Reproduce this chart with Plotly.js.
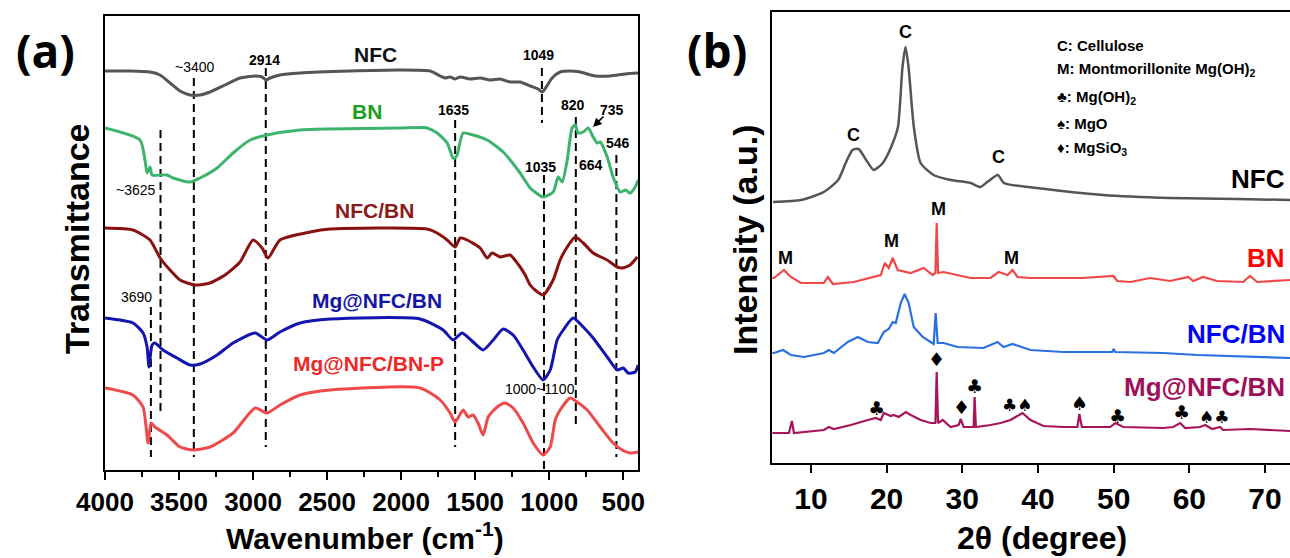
<!DOCTYPE html>
<html><head><meta charset="utf-8">
<script src="https://cdn.plot.ly/plotly-3.0.1.min.js"></script>
<style>html,body{margin:0;padding:0;background:#fff}#chart{width:1290px;height:558px}</style>
</head><body><div id="chart"></div>
<script>
// ---------- (a) FTIR : wavenumber (cm-1) and transmittance (offset, a.u.) ----------
const ftirNFC_wn = [4000,3831,3696,3628,3561,3493,3426,3358,3291,3189,3088,2986,2939,2912,2885,2818,2682,2345,2007,1804,1736,1703,1669,1635,1601,1534,1466,1399,1331,1264,1196,1128,1074,1047,1020,980,926,858,791,689,588,486,399];
const ftirNFC_t  = [399,399,398,395,387,379,375,375,378,385,392,394,393,390,392,395,397,399,400,399,394,392,393,391,393,391,392,390,391,388,388,384,381,378,383,392,398,399,398,394,394,396,397];

const ftirBN_wn = [4000,3764,3730,3716,3696,3682,3628,3581,3541,3426,3358,3243,3135,3020,2905,2682,2480,2007,1824,1757,1689,1649,1635,1622,1581,1514,1419,1311,1196,1128,1041,973,939,912,878,845,824,804,770,736,703,676,655,608,568,520,486,453,419,399];
const ftirBN_t  = [342,330,310,297,303,295,295,295,292,288,292,302,317,330,335,340,341,342,342,337,327,312,312,315,337,335,330,318,297,282,273,278,293,288,310,342,345,337,338,342,333,327,328,313,293,278,280,277,283,290];

const ftirNFCBN_wn = [4000,3811,3696,3628,3561,3493,3392,3291,3189,3088,3000,2939,2899,2818,2615,2480,1824,1757,1689,1635,1601,1554,1466,1419,1385,1331,1264,1196,1162,1128,1095,1041,973,926,878,824,770,703,608,540,507,453,405];
const ftirNFCBN_t  = [242,240,230,212,200,190,185,187,195,208,230,222,212,230,238,241,241,237,230,223,232,230,222,212,217,213,215,203,195,185,180,175,190,210,223,233,227,217,210,203,202,205,213];

const ftirMg_wn = [4000,3811,3743,3716,3703,3682,3662,3608,3514,3426,3358,3243,3135,2986,2905,2818,2682,2480,1872,1716,1649,1588,1514,1446,1378,1311,1243,1176,1108,1041,993,946,905,838,770,703,608,540,500,466,419,399];
const ftirMg_t  = [152,147,137,123,103,125,127,120,112,105,106,115,127,137,130,138,147,151,151,140,130,137,128,120,130,141,135,120,103,90,100,130,140,152,143,132,113,100,102,97,98,105];

const ftirMgP_wn = [4000,3811,3743,3709,3689,3662,3581,3493,3405,3291,3135,2986,2905,2818,2682,2480,1872,1736,1669,1635,1581,1547,1514,1480,1446,1412,1351,1297,1243,1176,1108,1041,993,959,926,858,811,743,655,568,507,453,399];
const ftirMgP_t  = [82,75,63,27,47,43,35,23,20,23,37,62,57,65,75,80,82,70,57,48,60,53,55,47,35,53,63,67,62,47,27,15,23,50,60,72,68,60,43,27,20,17,18];

// dashed peak guide lines (wavenumber, top and bottom in transmittance units)
const peakLineWn     = [3690,3625,3400,2914,1635,1049,1035,820,546];
const peakLineTop    = [163,340,392,402,350,402,295,353,315];
const peakLineBottom = [13,57,13,23,23,347,0,43,13];

const ftirTicks = [4000,3500,3000,2500,2000,1500,1000,500];
const ftirMinorTicks = [3750,3250,2750,2250,1750,1250,750];

// ---------- (b) XRD : 2theta (degree) and intensity (offset, a.u.) ----------
const xrdNFC_th = [5.0,8.7,11.7,13.6,14.6,15.5,16.3,17.3,18.3,19.5,20.6,21.5,22.1,22.5,22.9,23.6,24.5,26.2,28.5,31.1,32.4,33.3,34.7,35.5,39.9,48.6,57.5,66.3,73.3];
const xrdNFC_I  = [261,263,271,283,300,313,314,303,293,300,316,336,396,416,396,336,300,288,283,280,276,281,288,280,275,268,265,264,263];

const xrdBN_th = [4.9,5.12,6.44,7.36,8.68,11.71,12.24,12.9,15.67,17.91,19.23,19.76,20.29,20.81,21.47,23.19,24.9,26.09,26.45,26.62,26.8,27.54,29.39,31.1,33.74,34.79,35.98,36.64,37.3,39.01,45.87,49.96,50.48,52.2,54.84,57.47,59.85,60.51,61.83,63.67,67.1,68.02,68.95,73.3];
const xrdBN_I  = [185,185,193,186,180,180,186,179,181,185,188,200,195,205,193,190,195,188,190,240,190,191,188,185,185,191,188,193,186,185,185,187,182,181,185,182,186,182,186,182,181,187,181,183];

const xrdNFCBN_th = [4.9,5.12,6.31,7.36,9.08,11.71,12.37,13.03,14.88,16.2,17.52,18.84,19.63,20.29,20.81,21.21,21.87,22.39,22.92,23.58,24.77,25.82,26.22,26.48,26.75,27.54,29.39,32.81,34.66,35.45,36.64,39.01,43.36,49.8,50.0,50.2,56.55,61.04,67.63,73.3];
const xrdNFCBN_I  = [110,110,113,108,106,110,113,110,121,126,121,120,131,134,141,140,160,169,160,136,126,121,119,150,120,120,116,115,121,116,119,113,111,111,114,111,110,108,106,105];

const xrdMg_th = [4.9,5.12,7.1,7.49,7.76,11.71,12.37,13.03,15.27,17.52,18.57,19.23,19.63,20.55,20.95,21.6,22.53,23.19,24.51,25.82,26.45,26.62,26.8,27.41,28.46,29.52,29.78,30.18,31.1,31.5,31.63,31.8,33.74,35.06,36.37,37.96,39.01,40.73,43.36,45.21,45.47,45.8,49.56,50.22,51.28,56.55,57.87,58.79,59.45,61.43,62.09,63.01,64.07,64.46,68.02,73.3];
const xrdMg_I  = [30,30,30,42,30,33,36,34,38,43,45,43,50,47,48,46,51,48,43,40,40,91,40,43,36,38,44,36,36,36,66,36,38,40,43,50,43,37,36,36,49,36,36,40,36,35,36,40,35,36,38,34,36,33,34,32];

const xrdTicks = [10,20,30,40,50,60,70];

// ---------- traces ----------
const W = 1290, H = 558;
const traces = [];
peakLineWn.forEach((wn, i) => {
  traces.push({x:[wn,wn], y:[peakLineTop[i], peakLineBottom[i]], xaxis:'x', yaxis:'y',
    mode:'lines', line:{color:'#000', width:2, dash:'8px,5px'}, hoverinfo:'skip', showlegend:false});
});
function ln(x, y, color, width, ax, smooth) {
  const line = smooth ? {color, width, shape:'spline', smoothing:smooth} : {color, width, shape:'linear'};
  return {x, y, mode:'lines', line, xaxis:ax==2?'x2':'x', yaxis:ax==2?'y2':'y', showlegend:false, hoverinfo:'skip'};
}
traces.push(ln(ftirNFC_wn, ftirNFC_t, '#555555', 3, 1, 0.6));
traces.push(ln(ftirBN_wn, ftirBN_t, '#3cb46e', 3, 1, 0.6));
traces.push(ln(ftirNFCBN_wn, ftirNFCBN_t, '#8b1010', 3, 1, 0.6));
traces.push(ln(ftirMg_wn, ftirMg_t, '#1414b0', 3, 1, 0.6));
traces.push(ln(ftirMgP_wn, ftirMgP_t, '#ee4a4a', 3, 1, 0.6));

traces.push(ln(xrdNFC_th, xrdNFC_I, '#555555', 2.5, 2, 0.6));
traces.push(ln(xrdBN_th, xrdBN_I, '#f04848', 2.2, 2));
traces.push(ln(xrdNFCBN_th, xrdNFCBN_I, '#2a70e0', 2.2, 2));
traces.push(ln(xrdMg_th, xrdMg_I, '#a8145a', 2.2, 2));

// ---------- annotations (pixel placement helper) ----------
const FF = 'Liberation Sans, Arial, sans-serif';
const SF = 'DejaVu Sans, Liberation Sans, sans-serif';
function A(px, py, text, size, color, opts) {
  return Object.assign({xref:'paper', yref:'paper', x:px/W, y:1-py/H, text, showarrow:false,
    xanchor:'center', yanchor:'middle', font:{family:FF, size, color:color||'#000'}}, opts||{});
}
function S(px, py, text, size) { size = size || 19; return A(px, py, text, size, '#000', {font:{family:SF, size, color:'#000'}}); }
const ann = [
  A(45, 50, '<b>(a)</b>', 46, '#000', {font:{family:'Open Sans, sans-serif', size:46, color:'#000'}}),
  A(717, 50, '<b>(b)</b>', 46, '#000', {font:{family:'Open Sans, sans-serif', size:46, color:'#000'}}),
  // panel a series names
  A(375, 55, '<b>NFC</b>', 21, '#111'),
  A(367, 111, '<b>BN</b>', 21, '#1e9e1e'),
  A(374, 211, '<b>NFC/BN</b>', 21, '#8b1a1a'),
  A(377, 300, '<b>Mg@NFC/BN</b>', 21, '#1515a5'),
  A(369, 363, '<b>Mg@NFC/BN-P</b>', 21, '#ee2828'),
  // panel a peak labels
  A(195, 67, '~3400', 14),
  A(264, 60, '<b>2914</b>', 14),
  A(538, 55, '<b>1049</b>', 14),
  A(453, 110, '<b>1635</b>', 14),
  A(573, 105, '<b>820</b>', 14),
  A(612, 110, '<b>735</b>', 14),
  A(618, 143, '<b>546</b>', 14),
  A(540, 167, '<b>1035</b>', 14),
  A(591, 165, '<b>664</b>', 14),
  A(136, 190, '~3625', 14),
  A(136, 297, '3690', 14),
  A(540, 389, '1000~1100', 14),
  Object.assign(A(593, 127, '', 10), {showarrow:true, ax:12, ay:-12, arrowhead:2, arrowsize:1.1, arrowwidth:1.6, arrowcolor:'#000'}),
  // axis titles
  A(77, 239, '<b>Transmittance</b>', 34, '#000', {textangle:-90}),
  A(365, 536, '<b>Wavenumber (cm<sup>-1</sup>)</b>', 30),
  A(745, 240, '<b>Intensity (a.u.)</b>', 34, '#000', {textangle:-90}),
  A(1042, 538, '<b>2θ (degree)</b>', 32),
  // panel b series names
  A(1287, 179, '<b>NFC</b>', 26, '#000', {xanchor:'right'}),
  A(1287, 258, '<b>BN</b>', 26, '#ff0000', {xanchor:'right'}),
  A(1287, 334, '<b>NFC/BN</b>', 26, '#0000ff', {xanchor:'right'}),
  A(1287, 387, '<b>Mg@NFC/BN</b>', 26, '#a0105a', {xanchor:'right'}),
  // panel b phase labels
  A(853, 135, '<b>C</b>', 18), A(905, 32, '<b>C</b>', 18), A(998, 157, '<b>C</b>', 18),
  A(785, 258, '<b>M</b>', 18), A(891, 241, '<b>M</b>', 18), A(938, 209, '<b>M</b>', 18), A(1011, 258, '<b>M</b>', 18),
  S(936, 359, '♦'), S(876, 408, '♣'), S(961, 407, '♦'), S(974, 386, '♣'),
  S(1017, 405, '♣♠', 17), S(1079, 403, '♠'), S(1117, 416, '♣'),
  S(1181, 412, '♣'), S(1214, 417, '♠♣', 17),
  // panel b key
  A(1055, 45, '<b>C: Cellulose</b>', 15, '#000', {xanchor:'left'}),
  A(1055, 70, '<b>M: Montmorillonite Mg(OH)<sub>2</sub></b>', 15, '#000', {xanchor:'left'}),
  A(1055, 97, '<b>♣: Mg(OH)<sub>2</sub></b>', 15, '#000', {xanchor:'left'}),
  A(1055, 123, '<b>♠: MgO</b>', 15, '#000', {xanchor:'left'}),
  A(1055, 148, '<b>♦: MgSiO<sub>3</sub></b>', 15, '#000', {xanchor:'left'})
];

const tickFontA = {family:FF, size:26, color:'#000', weight:'bold'};
const tickFontB = {family:FF, size:30, color:'#000', weight:'bold'};
const layout = {
  width:W, height:H, margin:{l:0, r:0, t:0, b:0}, paper_bgcolor:'#fff', plot_bgcolor:'#fff',
  showlegend:false,
  xaxis:{domain:[105/W, 638/W], range:[4000, 400], tickvals:ftirTicks, ticktext:ftirTicks.map(String),
    ticks:'outside', ticklen:8, tickwidth:2, tickcolor:'#000', showline:true, linewidth:2, linecolor:'#000',
    mirror:true, showgrid:false, zeroline:false, tickfont:tickFontA,
    minor:{tickvals:ftirMinorTicks, ticks:'outside', ticklen:5, tickwidth:2, tickcolor:'#000', showgrid:false}},
  yaxis:{domain:[(H-470)/H, (H-16)/H], range:[0, 454], showticklabels:false, ticks:'',
    showline:true, linewidth:2, linecolor:'#000', mirror:true, showgrid:false, zeroline:false},
  xaxis2:{domain:[772/W, 1], range:[4.86, 73.3], anchor:'y2', tickvals:xrdTicks, ticks:'outside', ticklen:8, tickwidth:2,
    tickcolor:'#000', showline:true, linewidth:2, linecolor:'#000', mirror:true, showgrid:false, zeroline:false, tickfont:tickFontB},
  yaxis2:{domain:[(H-463)/H, (H-12)/H], range:[0, 451], anchor:'x2', showticklabels:false, ticks:'',
    showline:true, linewidth:2, linecolor:'#000', mirror:false, showgrid:false, zeroline:false},
  annotations:ann
};
Plotly.newPlot('chart', traces, layout, {staticPlot:true, displayModeBar:false});
</script>
</body></html>
